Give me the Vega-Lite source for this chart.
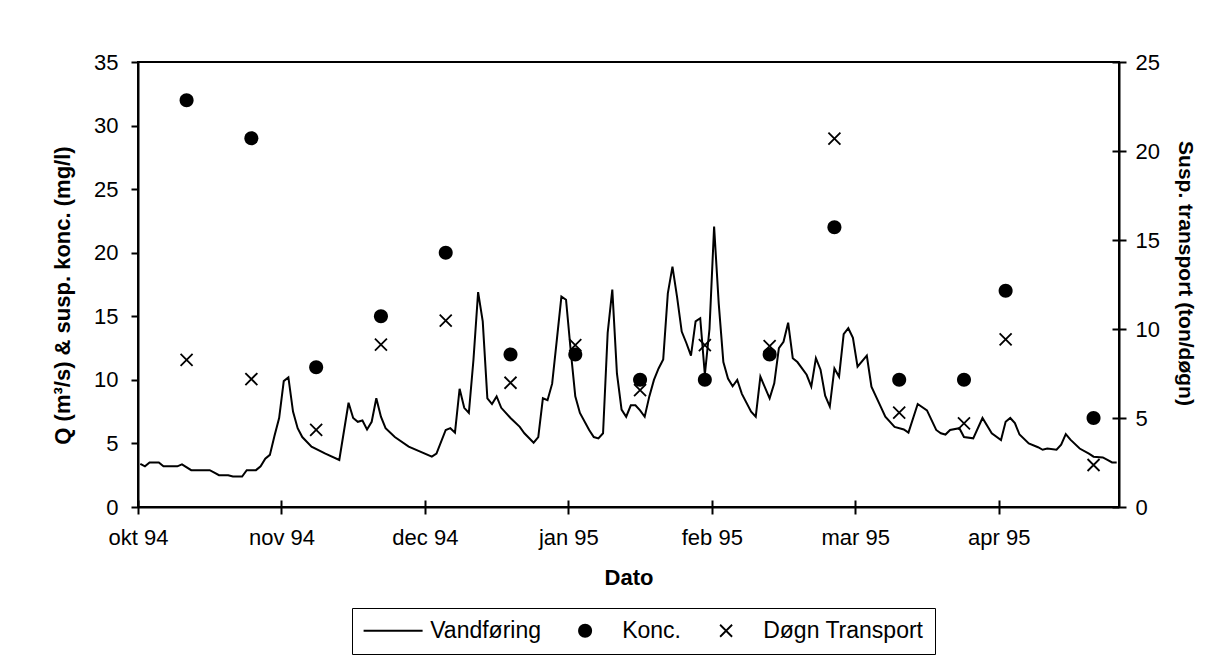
{
  "$schema": "https://vega.github.io/schema/vega-lite/v6.json",
  "width": 981,
  "height": 445,
  "autosize": {"type": "none"},
  "padding": {"left": 138, "top": 62, "right": 98, "bottom": 155},
  "background": "white",
  "config": {
    "font": "Liberation Sans",
    "view": {"stroke": "black", "strokeWidth": 2},
    "axis": {
      "grid": false,
      "domainColor": "black",
      "domainWidth": 2,
      "tickColor": "black",
      "tickWidth": 2,
      "labelColor": "black",
      "titleColor": "black",
      "labelFont": "Liberation Sans",
      "titleFont": "Liberation Sans",
      "labelFontSize": 22,
      "titleFontSize": 22,
      "titleFontWeight": "bold"
    }
  },
  "datasets": {
    "flow": [
      {"date": "1994-10-01", "Q": 3.4}, {"date": "1994-10-02", "Q": 3.2}, {"date": "1994-10-03", "Q": 3.5},
      {"date": "1994-10-05", "Q": 3.5}, {"date": "1994-10-06", "Q": 3.2}, {"date": "1994-10-09", "Q": 3.2},
      {"date": "1994-10-10", "Q": 3.35}, {"date": "1994-10-12", "Q": 2.9}, {"date": "1994-10-16", "Q": 2.9},
      {"date": "1994-10-17", "Q": 2.7}, {"date": "1994-10-18", "Q": 2.5}, {"date": "1994-10-20", "Q": 2.5},
      {"date": "1994-10-21", "Q": 2.4}, {"date": "1994-10-23", "Q": 2.4}, {"date": "1994-10-24", "Q": 2.9},
      {"date": "1994-10-26", "Q": 2.9}, {"date": "1994-10-27", "Q": 3.2}, {"date": "1994-10-28", "Q": 3.8},
      {"date": "1994-10-29", "Q": 4.1}, {"date": "1994-10-30", "Q": 5.6}, {"date": "1994-10-31", "Q": 7.0},
      {"date": "1994-11-01", "Q": 9.9}, {"date": "1994-11-02", "Q": 10.2}, {"date": "1994-11-03", "Q": 7.5},
      {"date": "1994-11-04", "Q": 6.2}, {"date": "1994-11-05", "Q": 5.5}, {"date": "1994-11-07", "Q": 4.75},
      {"date": "1994-11-10", "Q": 4.2}, {"date": "1994-11-13", "Q": 3.7}, {"date": "1994-11-15", "Q": 8.2},
      {"date": "1994-11-16", "Q": 7.0}, {"date": "1994-11-17", "Q": 6.7}, {"date": "1994-11-18", "Q": 6.8},
      {"date": "1994-11-19", "Q": 6.1}, {"date": "1994-11-20", "Q": 6.7}, {"date": "1994-11-21", "Q": 8.55},
      {"date": "1994-11-22", "Q": 7.1}, {"date": "1994-11-23", "Q": 6.2}, {"date": "1994-11-25", "Q": 5.5},
      {"date": "1994-11-28", "Q": 4.75}, {"date": "1994-12-03", "Q": 3.96}, {"date": "1994-12-04", "Q": 4.2},
      {"date": "1994-12-06", "Q": 6.06}, {"date": "1994-12-07", "Q": 6.2}, {"date": "1994-12-08", "Q": 5.85},
      {"date": "1994-12-09", "Q": 9.3}, {"date": "1994-12-10", "Q": 7.8}, {"date": "1994-12-11", "Q": 7.4},
      {"date": "1994-12-12", "Q": 11.6}, {"date": "1994-12-13", "Q": 16.9}, {"date": "1994-12-14", "Q": 14.6},
      {"date": "1994-12-15", "Q": 8.55}, {"date": "1994-12-16", "Q": 8.1}, {"date": "1994-12-17", "Q": 8.7},
      {"date": "1994-12-18", "Q": 7.8}, {"date": "1994-12-20", "Q": 7.0}, {"date": "1994-12-22", "Q": 6.3},
      {"date": "1994-12-23", "Q": 5.8}, {"date": "1994-12-25", "Q": 5.06}, {"date": "1994-12-26", "Q": 5.5},
      {"date": "1994-12-27", "Q": 8.55}, {"date": "1994-12-28", "Q": 8.4}, {"date": "1994-12-29", "Q": 9.7},
      {"date": "1994-12-30", "Q": 13.1}, {"date": "1994-12-31", "Q": 16.55}, {"date": "1995-01-01", "Q": 16.3},
      {"date": "1995-01-02", "Q": 12.35}, {"date": "1995-01-03", "Q": 8.7}, {"date": "1995-01-04", "Q": 7.4},
      {"date": "1995-01-06", "Q": 6.06}, {"date": "1995-01-07", "Q": 5.5}, {"date": "1995-01-08", "Q": 5.4},
      {"date": "1995-01-09", "Q": 5.8}, {"date": "1995-01-10", "Q": 13.7}, {"date": "1995-01-11", "Q": 17.1},
      {"date": "1995-01-12", "Q": 10.5}, {"date": "1995-01-13", "Q": 7.66}, {"date": "1995-01-14", "Q": 7.1},
      {"date": "1995-01-15", "Q": 8.0}, {"date": "1995-01-16", "Q": 8.0}, {"date": "1995-01-17", "Q": 7.6},
      {"date": "1995-01-18", "Q": 7.1}, {"date": "1995-01-19", "Q": 8.7}, {"date": "1995-01-20", "Q": 10.0},
      {"date": "1995-01-21", "Q": 10.9}, {"date": "1995-01-22", "Q": 11.6}, {"date": "1995-01-23", "Q": 16.8},
      {"date": "1995-01-24", "Q": 18.9}, {"date": "1995-01-25", "Q": 16.5}, {"date": "1995-01-26", "Q": 13.8},
      {"date": "1995-01-27", "Q": 12.9}, {"date": "1995-01-28", "Q": 11.9}, {"date": "1995-01-29", "Q": 14.6},
      {"date": "1995-01-30", "Q": 14.85}, {"date": "1995-01-31", "Q": 10.4}, {"date": "1995-02-01", "Q": 14.0},
      {"date": "1995-02-02", "Q": 22.05}, {"date": "1995-02-03", "Q": 16.0}, {"date": "1995-02-04", "Q": 11.4},
      {"date": "1995-02-05", "Q": 10.1}, {"date": "1995-02-06", "Q": 9.5}, {"date": "1995-02-07", "Q": 10.0},
      {"date": "1995-02-08", "Q": 8.9}, {"date": "1995-02-10", "Q": 7.5}, {"date": "1995-02-11", "Q": 7.1},
      {"date": "1995-02-12", "Q": 10.25}, {"date": "1995-02-14", "Q": 8.55}, {"date": "1995-02-15", "Q": 9.73},
      {"date": "1995-02-16", "Q": 12.5}, {"date": "1995-02-17", "Q": 13.0}, {"date": "1995-02-18", "Q": 14.5},
      {"date": "1995-02-19", "Q": 11.7}, {"date": "1995-02-20", "Q": 11.4}, {"date": "1995-02-22", "Q": 10.4},
      {"date": "1995-02-23", "Q": 9.47}, {"date": "1995-02-24", "Q": 11.7}, {"date": "1995-02-25", "Q": 10.8},
      {"date": "1995-02-26", "Q": 8.75}, {"date": "1995-02-27", "Q": 7.9}, {"date": "1995-02-28", "Q": 10.9},
      {"date": "1995-03-01", "Q": 10.25}, {"date": "1995-03-02", "Q": 13.6}, {"date": "1995-03-03", "Q": 14.06},
      {"date": "1995-03-04", "Q": 13.3}, {"date": "1995-03-05", "Q": 11.04}, {"date": "1995-03-07", "Q": 11.9},
      {"date": "1995-03-08", "Q": 9.47}, {"date": "1995-03-10", "Q": 7.9}, {"date": "1995-03-11", "Q": 7.1},
      {"date": "1995-03-13", "Q": 6.3}, {"date": "1995-03-15", "Q": 6.1}, {"date": "1995-03-16", "Q": 5.85},
      {"date": "1995-03-18", "Q": 8.1}, {"date": "1995-03-20", "Q": 7.6}, {"date": "1995-03-22", "Q": 6.06},
      {"date": "1995-03-23", "Q": 5.8}, {"date": "1995-03-24", "Q": 5.7}, {"date": "1995-03-25", "Q": 6.06},
      {"date": "1995-03-27", "Q": 6.2}, {"date": "1995-03-28", "Q": 5.5}, {"date": "1995-03-30", "Q": 5.4},
      {"date": "1995-04-01", "Q": 7.0}, {"date": "1995-04-03", "Q": 5.8}, {"date": "1995-04-05", "Q": 5.27},
      {"date": "1995-04-06", "Q": 6.7}, {"date": "1995-04-07", "Q": 7.0}, {"date": "1995-04-08", "Q": 6.6},
      {"date": "1995-04-09", "Q": 5.7}, {"date": "1995-04-11", "Q": 5.0}, {"date": "1995-04-13", "Q": 4.7},
      {"date": "1995-04-14", "Q": 4.5}, {"date": "1995-04-15", "Q": 4.6}, {"date": "1995-04-17", "Q": 4.5},
      {"date": "1995-04-18", "Q": 4.9}, {"date": "1995-04-19", "Q": 5.74}, {"date": "1995-04-20", "Q": 5.3},
      {"date": "1995-04-22", "Q": 4.6}, {"date": "1995-04-24", "Q": 4.2}, {"date": "1995-04-25", "Q": 3.96},
      {"date": "1995-04-27", "Q": 3.9}, {"date": "1995-04-28", "Q": 3.7}, {"date": "1995-04-29", "Q": 3.5},
      {"date": "1995-04-30", "Q": 3.5}
    ],
    "samples": [
      {"date": "1994-10-11", "konc": 32, "transport": 8.26},
      {"date": "1994-10-25", "konc": 29, "transport": 7.19},
      {"date": "1994-11-08", "konc": 11, "transport": 4.33},
      {"date": "1994-11-22", "konc": 15, "transport": 9.12},
      {"date": "1994-12-06", "konc": 20, "transport": 10.47},
      {"date": "1994-12-20", "konc": 12, "transport": 6.98},
      {"date": "1995-01-03", "konc": 12, "transport": 9.1},
      {"date": "1995-01-17", "konc": 10, "transport": 6.57},
      {"date": "1995-01-31", "konc": 10, "transport": 9.1},
      {"date": "1995-02-14", "konc": 12, "transport": 9.04},
      {"date": "1995-02-28", "konc": 22, "transport": 20.7},
      {"date": "1995-03-14", "konc": 10, "transport": 5.3},
      {"date": "1995-03-28", "konc": 10, "transport": 4.7},
      {"date": "1995-04-06", "konc": 17, "transport": 9.42},
      {"date": "1995-04-25", "konc": 7, "transport": 2.36}
    ]
  },
  "layer": [
    {
      "data": {"name": "flow"},
      "mark": {"type": "line", "color": "black", "strokeWidth": 2},
      "encoding": {
        "x": {
          "field": "date", "type": "temporal",
          "scale": {"type": "utc", "domain": [{"year": 1994, "month": 9, "date": 30, "hours": 12, "utc": true}, {"year": 1995, "month": 4, "date": 30, "hours": 12, "utc": true}]},
          "axis": {
            "orient": "bottom",
            "values": [
              {"year": 1994, "month": 9, "date": 30, "hours": 12, "utc": true},
              {"year": 1994, "month": 10, "date": 31, "hours": 12, "utc": true},
              {"year": 1994, "month": 12, "date": 1, "hours": 12, "utc": true},
              {"year": 1995, "month": 1, "date": 1, "hours": 12, "utc": true},
              {"year": 1995, "month": 2, "date": 1, "hours": 12, "utc": true},
              {"year": 1995, "month": 3, "date": 4, "hours": 12, "utc": true},
              {"year": 1995, "month": 4, "date": 4, "hours": 12, "utc": true}
            ],
            "labelExpr": "['jan','feb','mar','apr','maj','jun','jul','aug','sep','okt','nov','dec'][utcmonth(time(datum.value) + 43200000)] + ' ' + utcFormat(time(datum.value) + 43200000, '%y')",
            "tickSize": 7,
            "labelPadding": 13,
            "labelFlush": false,
            "labelOverlap": false,
            "title": "Dato",
            "titlePadding": 19
          }
        },
        "y": {
          "field": "Q", "type": "quantitative",
          "scale": {"domain": [0, 35], "nice": false, "zero": true},
          "axis": {
            "orient": "left",
            "values": [0, 5, 10, 15, 20, 25, 30, 35],
            "tickSize": 7,
            "labelPadding": 13,
            "title": "Q (m³/s) & susp. konc. (mg/l)",
            "titlePadding": 19,
            "titleY": 233
          }
        }
      }
    },
    {
      "data": {"name": "samples"},
      "mark": {"type": "point", "filled": true, "color": "black", "opacity": 1, "size": 400},
      "encoding": {
        "x": {
          "field": "date", "type": "temporal",
          "scale": {"type": "utc", "domain": [{"year": 1994, "month": 9, "date": 30, "hours": 12, "utc": true}, {"year": 1995, "month": 4, "date": 30, "hours": 12, "utc": true}]},
          "axis": {
            "orient": "bottom",
            "values": [
              {"year": 1994, "month": 9, "date": 30, "hours": 12, "utc": true},
              {"year": 1994, "month": 10, "date": 31, "hours": 12, "utc": true},
              {"year": 1994, "month": 12, "date": 1, "hours": 12, "utc": true},
              {"year": 1995, "month": 1, "date": 1, "hours": 12, "utc": true},
              {"year": 1995, "month": 2, "date": 1, "hours": 12, "utc": true},
              {"year": 1995, "month": 3, "date": 4, "hours": 12, "utc": true},
              {"year": 1995, "month": 4, "date": 4, "hours": 12, "utc": true}
            ],
            "labels": false, "domain": false, "tickSize": -7, "title": null
          }
        },
        "y": {
          "field": "konc", "type": "quantitative",
          "scale": {"domain": [0, 35], "nice": false, "zero": true},
          "axis": {
            "orient": "right",
            "values": [0, 7, 14, 21, 28, 35],
            "labels": false, "domain": false, "tickSize": -7, "title": null
          }
        },
        "shape": {
          "datum": "Konc.", "type": "nominal",
          "scale": {
            "domain": ["Vandføring", "Konc.", "Døgn Transport"],
            "range": ["M-2.95,-0.1H2.95V0.1H-2.95Z", "M-0.7,0A0.7,0.7,0,1,1,0.7,0A0.7,0.7,0,1,1,-0.7,0Z", "M-0.536,-0.664L0.664,0.536L0.536,0.664L-0.664,-0.536ZM-0.664,0.536L0.536,-0.664L0.664,-0.536L-0.536,0.664Z"]
          },
          "legend": {
            "title": null, "orient": "none", "legendX": 214, "legendY": 546,
            "direction": "horizontal", "symbolSize": 400,
            "symbolOffset": 18.6, "labelOffset": 25.6, "labelLimit": 400,
            "symbolFillColor": "black", "symbolStrokeWidth": 0,
            "labelFontSize": 23, "labelFont": "Liberation Sans", "labelColor": "black",
            "padding": 11, "strokeColor": "black", "fillColor": "white",
            "columnPadding": 14,
            "encode": {"symbols": {"update": {"fill": {"value": "black"}, "opacity": {"value": 1}}}}
          }
        }
      }
    },
    {
      "data": {"name": "samples"},
      "mark": {"type": "point", "filled": true, "color": "black", "opacity": 1, "size": 400},
      "encoding": {
        "x": {
          "field": "date", "type": "temporal",
          "scale": {"type": "utc", "domain": [{"year": 1994, "month": 9, "date": 30, "hours": 12, "utc": true}, {"year": 1995, "month": 4, "date": 30, "hours": 12, "utc": true}]},
          "axis": null
        },
        "y": {
          "field": "transport", "type": "quantitative",
          "scale": {"domain": [0, 25], "nice": false, "zero": true},
          "axis": {
            "orient": "right",
            "values": [0, 5, 10, 15, 20, 25],
            "tickSize": 7,
            "labelPadding": 9,
            "title": "Susp. transport (ton/døgn)",
            "titleFontSize": 21,
            "titlePadding": 15,
            "titleY": 211
          }
        },
        "shape": {
          "datum": "Døgn Transport", "type": "nominal",
          "scale": {
            "domain": ["Vandføring", "Konc.", "Døgn Transport"],
            "range": ["M-2.95,-0.1H2.95V0.1H-2.95Z", "M-0.7,0A0.7,0.7,0,1,1,0.7,0A0.7,0.7,0,1,1,-0.7,0Z", "M-0.536,-0.664L0.664,0.536L0.536,0.664L-0.664,-0.536ZM-0.664,0.536L0.536,-0.664L0.664,-0.536L-0.536,0.664Z"]
          },
          "legend": {
            "title": null, "orient": "none", "legendX": 214, "legendY": 546,
            "direction": "horizontal", "symbolSize": 400,
            "symbolOffset": 18.6, "labelOffset": 25.6, "labelLimit": 400,
            "symbolFillColor": "black", "symbolStrokeWidth": 0,
            "labelFontSize": 23, "labelFont": "Liberation Sans", "labelColor": "black",
            "padding": 11, "strokeColor": "black", "fillColor": "white",
            "columnPadding": 14,
            "encode": {"symbols": {"update": {"fill": {"value": "black"}, "opacity": {"value": 1}}}}
          }
        }
      }
    }
  ],
  "resolve": {"scale": {"y": "independent"}, "axis": {"x": "independent", "y": "independent"}}
}
